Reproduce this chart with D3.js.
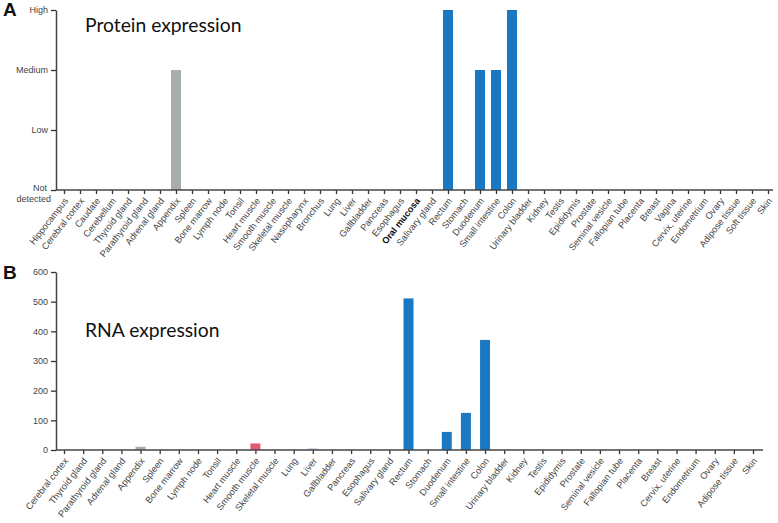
<!DOCTYPE html>
<html lang="en">
<head>
<meta charset="UTF-8">
<title>Protein and RNA expression</title>
<script src="https://d3js.org/d3.v7.min.js"></script>
<style>
    body { margin: 0; background: #fff; }
    text { font-family: "Liberation Sans", Arial, sans-serif; }
    .title { font-family: Lato, "Open Sans", sans-serif; font-size: 19.3px; fill: #111; }
    .panel { font-family: "Liberation Sans", Arial, sans-serif; font-size: 19px; font-weight: bold; fill: #111; }
</style>
</head>
<body>
<div id="chart"></div>
<script>
// Panel A - protein expression levels (0 = not detected, 3 = high)
var proteinTissues = ["Hippocampus", "Cerebral cortex", "Caudate", "Cerebellum", "Thyroid gland",
    "Parathyroid gland", "Adrenal gland", "Appendix", "Spleen", "Bone marrow", "Lymph node", "Tonsil",
    "Heart muscle", "Smooth muscle", "Skeletal muscle", "Nasopharynx", "Bronchus", "Lung", "Liver",
    "Gallbladder", "Pancreas", "Esophagus", "Oral mucosa", "Salivary gland", "Rectum", "Stomach",
    "Duodenum", "Small intestine", "Colon", "Urinary bladder", "Kidney", "Testis", "Epididymis",
    "Prostate", "Seminal vesicle", "Fallopian tube", "Placenta", "Breast", "Vagina", "Cervix, uterine",
    "Endometrium", "Ovary", "Adipose tissue", "Soft tissue", "Skin"];
var proteinLevels = [0, 0, 0, 0, 0, 0, 0, 2, 0, 0, 0, 0, 0, 0, 0, 0, 0, 0, 0, 0, 0, 0, 0, 0, 3, 0,
    2, 2, 3, 0, 0, 0, 0, 0, 0, 0, 0, 0, 0, 0, 0, 0, 0, 0, 0];
var proteinTicks = ["Not detected", "Low", "Medium", "High"];

// Panel B - RNA expression
var rnaTissues = ["Cerebral cortex", "Thyroid gland", "Parathyroid gland", "Adrenal gland", "Appendix",
    "Spleen", "Bone marrow", "Lymph node", "Tonsil", "Heart muscle", "Smooth muscle", "Skeletal muscle",
    "Lung", "Liver", "Gallbladder", "Pancreas", "Esophagus", "Salivary gland", "Rectum", "Stomach",
    "Duodenum", "Small intestine", "Colon", "Urinary bladder", "Kidney", "Testis", "Epididymis",
    "Prostate", "Seminal vesicle", "Fallopian tube", "Placenta", "Breast", "Cervix, uterine",
    "Endometrium", "Ovary", "Adipose tissue", "Skin"];
var rnaValues = [0, 0, 0, 0, 11, 0, 0, 0, 0, 0, 22, 0, 0, 7, 0, 1, 0, 0, 511, 0,
    61, 125, 371, 0, 0, 0, 0, 0, 0, 0, 0, 0, 0, 0, 0, 0, 0];
var rnaTicks = [0, 100, 200, 300, 400, 500, 600];

var blue = "#1b79c4";
var barColors = { "Appendix": "#a6adac", "Smooth muscle": "#e05a74", "Liver": "#d9d5ea", "Pancreas": "#c9c9c9" };

var width = 778, height = 523;
var svg = d3.select("#chart").append("svg")
    .attr("width", width)
    .attr("height", height);

function drawPanel(opt) {
    var g = svg.append("g");
    var x = d3.scalePoint().domain(opt.cats).range(opt.xRange);
    var y = d3.scaleLinear().domain(opt.yDomain).range(opt.yRange);

    // bars
    g.selectAll("rect.bar")
        .data(opt.cats.map(function (c, i) { return { name: c, v: opt.values[i] }; })
            .filter(function (d) { return d.v > 0; }))
        .join("rect")
        .attr("class", "bar")
        .attr("x", function (d) { return x(d.name) - 5; })
        .attr("width", 10)
        .attr("y", function (d) { return y(d.v); })
        .attr("height", function (d) { return y(0) - y(d.v); })
        .attr("fill", function (d) { return opt.colorFn(d); });

    // x axis
    var xAxis = g.append("g")
        .attr("transform", "translate(0," + opt.yRange[0] + ")")
        .call(d3.axisBottom(x).tickSize(4).tickSizeOuter(0).tickFormat(""));
    xAxis.select(".domain").remove();
    xAxis.selectAll("line").attr("stroke", "#333").attr("stroke-width", 1.3);
    g.append("line")
        .attr("x1", opt.axisX).attr("x2", opt.xEnd)
        .attr("y1", opt.yRange[0]).attr("y2", opt.yRange[0])
        .attr("stroke", "#444").attr("stroke-width", 1.5);

    g.append("g").selectAll("text")
        .data(opt.cats)
        .join("text")
        .attr("transform", function (d) {
            return "translate(" + (x(d) + 2) + "," + (opt.yRange[0] + 9) + ") rotate(-52)";
        })
        .attr("text-anchor", "end")
        .attr("dy", "0.35em")
        .style("font-size", "9.2px")
        .style("font-weight", function (d) { return d === "Oral mucosa" ? "bold" : "normal"; })
        .attr("fill", function (d) { return d === "Oral mucosa" ? "#111" : "#444"; })
        .text(function (d) { return d; });

    // y axis
    var yAxis = g.append("g")
        .attr("transform", "translate(" + opt.axisX + ",0)")
        .call(d3.axisLeft(y).tickValues(opt.tickValues).tickSize(5).tickSizeOuter(0)
            .tickFormat(opt.tickFormat));
    yAxis.select(".domain").attr("stroke", "#444").attr("stroke-width", 1.5);
    yAxis.selectAll("line").attr("stroke", "#333").attr("stroke-width", 1.3);
    yAxis.selectAll("text").style("font-size", "9px").attr("fill", "#444")
        .attr("font-family", "Liberation Sans, Arial, sans-serif");
    if (opt.afterY) opt.afterY(yAxis);

    svg.append("text").attr("class", "title")
        .attr("x", opt.titlePos[0]).attr("y", opt.titlePos[1])
        .text(opt.title);
    svg.append("text").attr("class", "panel")
        .attr("x", opt.letterPos[0]).attr("y", opt.letterPos[1])
        .text(opt.letter);
}

drawPanel({
    cats: proteinTissues,
    values: proteinLevels,
    xRange: [64, 768],
    xEnd: 773,
    axisX: 56,
    yDomain: [0, 3],
    yRange: [190, 10],
    tickValues: [0, 1, 2, 3],
    tickFormat: function (d) { return proteinTicks[d]; },
    afterY: function (ax) {
        ax.selectAll(".tick text").filter(function (d) { return d === 0; })
            .text(null)
            .call(function (t) {
                t.append("tspan").attr("x", -9).attr("dy", "0.1em").text("Not");
                t.append("tspan").attr("x", -5).attr("dy", "1.15em").text("detected");
            });
    },
    colorFn: function (d) { return barColors[d.name] || blue; },
    title: "Protein expression",
    titlePos: [85, 32],
    letter: "A",
    letterPos: [3, 16]
});

drawPanel({
    cats: rnaTissues,
    values: rnaValues,
    xRange: [64, 753],
    xEnd: 763,
    axisX: 56,
    yDomain: [0, 600],
    yRange: [450, 272],
    tickValues: rnaTicks,
    tickFormat: d3.format("d"),
    colorFn: function (d) { return barColors[d.name] || blue; },
    title: "RNA expression",
    titlePos: [85, 337],
    letter: "B",
    letterPos: [3, 279]
});
</script>
</body>
</html>
